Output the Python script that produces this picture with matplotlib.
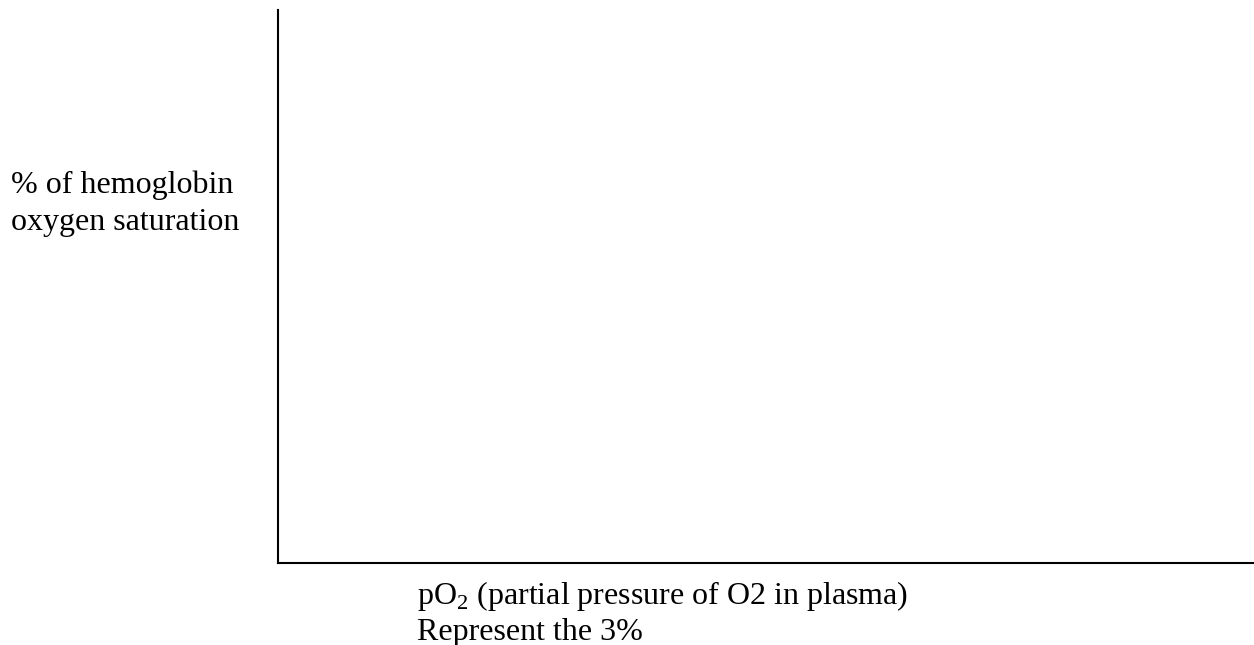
import matplotlib
matplotlib.use("Agg")
import matplotlib.pyplot as plt

plt.rcParams["font.family"] = ["Liberation Serif", "DejaVu Serif"]
plt.rcParams["mathtext.fontset"] = "custom"
plt.rcParams["mathtext.rm"] = "Liberation Serif"

W, H = 1254, 645
DPI = 100

y_label_lines = ["% of hemoglobin", "oxygen saturation"]
x_label_lines = [r"pO$_\mathregular{2}$ (partial pressure of O2 in plasma)",
                 "Represent the 3%"]

fig = plt.figure(figsize=(W / DPI, H / DPI), dpi=DPI)

# blank axes: only the left and bottom spines
left, right, top, bottom = 278, 1254, 10, 563
ax = fig.add_axes([left / W, 1 - bottom / H, (right - left) / W, (bottom - top) / H])
ax.set_xlim(0, 1)
ax.set_ylim(0, 1)
for side in ("top", "right"):
    ax.spines[side].set_visible(False)
for side in ("left", "bottom"):
    ax.spines[side].set_linewidth(1.5)
    ax.spines[side].set_color("black")
ax.set_xticks([])
ax.set_yticks([])

fs = 23
for i, line in enumerate(y_label_lines):
    fig.text(11 / W, 1 - (193 + 37 * i) / H, line, fontsize=fs,
             ha="left", va="baseline")
for i, line in enumerate(x_label_lines):
    fig.text(417 / W, 1 - (604 + 36 * i) / H, line, fontsize=fs,
             ha="left", va="baseline")

fig.savefig("out.png", dpi=DPI)
